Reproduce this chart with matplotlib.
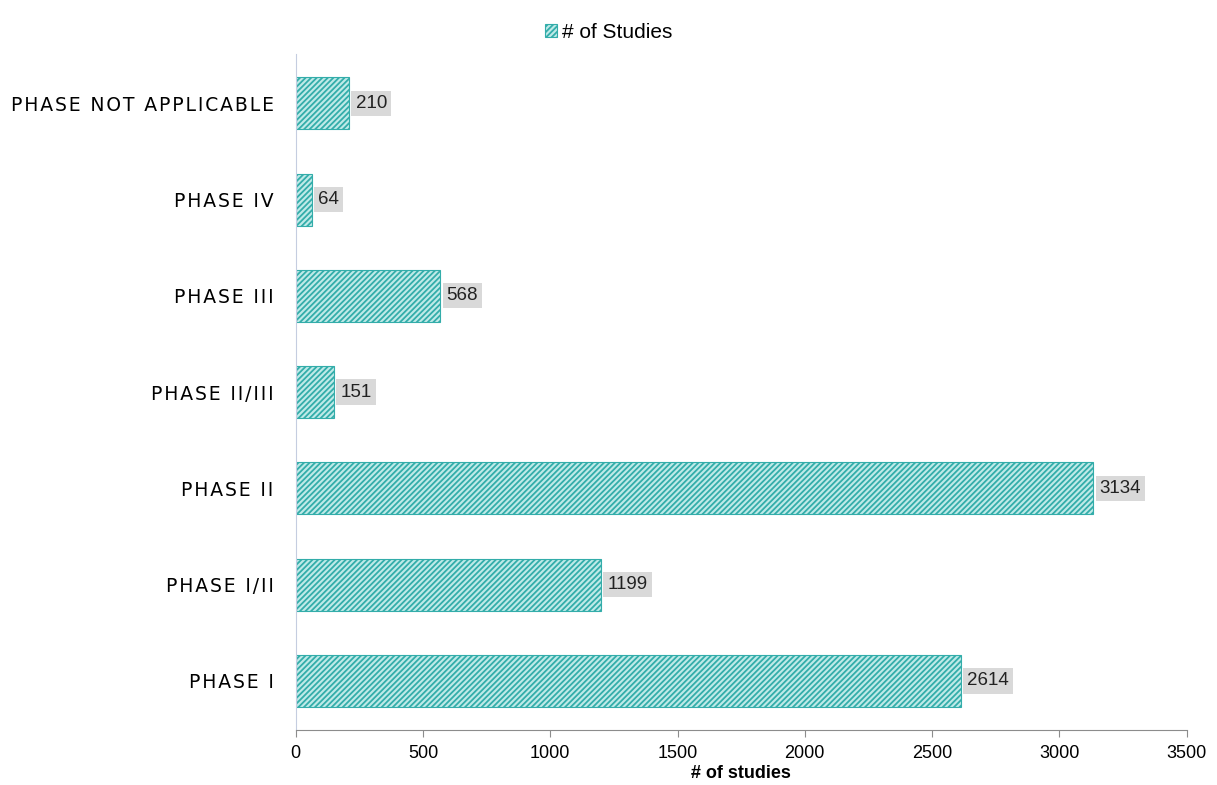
import matplotlib.pyplot as plt
import matplotlib as mpl

phases = ['PHASE I', 'PHASE I/II', 'PHASE II', 'PHASE II/III', 'PHASE III', 'PHASE IV', 'PHASE NOT APPLICABLE']
studies = [2614, 1199, 3134, 151, 568, 64, 210]

mpl.rcParams['font.family'] = ['Liberation Sans', 'DejaVu Sans']
mpl.rcParams['hatch.linewidth'] = 1.3
mpl.rcParams['hatch.color'] = '#33adaa'

fig = plt.figure(figsize=(12.17, 7.85), dpi=100)
ax = fig.add_axes([0.243, 0.070, 0.732, 0.861])

bars = ax.barh(range(len(phases)), studies, height=0.54, color='#bfeae8',
               edgecolor='#33adaa', linewidth=0.8, hatch='//////', label='# of Studies')

for i, v in enumerate(studies):
    ax.text(v + 25, i, str(v), va='center', ha='left', fontsize=13.5, color='#222222',
            bbox=dict(boxstyle='square,pad=0.22', facecolor='#d9d9d9', edgecolor='none'))

ax.set_xlim(0, 3500)
ax.set_ylim(-0.51, len(phases) - 0.49)
ax.set_xticks(range(0, 3501, 500))
ax.set_yticks(range(len(phases)))
# spaced-out capitals for the category names
ax.set_yticklabels(['\u200a'.join(p) for p in phases], fontsize=13.5,
                   family=['DejaVu Sans'])
ax.tick_params(axis='x', labelsize=13, length=5, color='#8c8c8c', pad=6)
ax.tick_params(axis='y', length=0, pad=16)

for s in ['top', 'right']:
    ax.spines[s].set_visible(False)
ax.spines['left'].set_color('#c5cde0')
ax.spines['bottom'].set_color('#8c8c8c')

ax.set_xlabel('# of studies', fontsize=13, fontweight='bold', labelpad=2)

fig.legend(handles=[bars], labels=['# of Studies'], loc='upper center',
           bbox_to_anchor=(0.5, 0.995), frameon=False, fontsize=15,
           handlelength=0.6, handleheight=0.6, handletextpad=0.2)

fig.savefig('out.png', dpi=100, facecolor='white')
